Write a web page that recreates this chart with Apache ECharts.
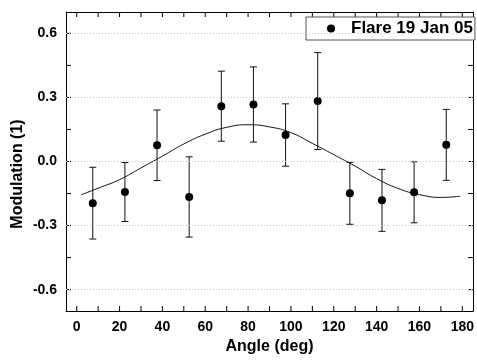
<!DOCTYPE html>
<html>
<head>
<meta charset="utf-8">
<script src="https://cdn.jsdelivr.net/npm/echarts@6/dist/echarts.min.js"></script>
<style>
    html, body { margin: 0; padding: 0; background: #fff; }
    .container { width: 477px; height: 360px; }
</style>
</head>
<body>
<div class="container"></div>
<script>
// measured points (angle, modulation, error)
const angles = [7.5, 22.5, 37.5, 52.5, 67.5, 82.5, 97.5, 112.5, 127.5, 142.5, 157.5, 172.5];
const modulation = [-0.195, -0.143, 0.076, -0.166, 0.259, 0.267, 0.124, 0.283, -0.149, -0.182, -0.144, 0.078];
const errors = [0.168, 0.138, 0.165, 0.188, 0.164, 0.176, 0.146, 0.227, 0.145, 0.145, 0.143, 0.166];

// fitted curve
const fitX = [2, 10, 20, 30, 40, 50, 60, 70, 80, 90, 100, 110, 120, 130, 140, 150, 160, 170, 179];
const fitY = [-0.156, -0.125, -0.085, -0.030, 0.025, 0.082, 0.128, 0.160, 0.172, 0.162, 0.135, 0.085, 0.032, -0.022, -0.080, -0.126, -0.155, -0.168, -0.163];

const xTicks = [0, 20, 40, 60, 80, 100, 120, 140, 160, 180];
const xMinorTicks = [0, 10, 20, 30, 40, 50, 60, 70, 80, 90, 100, 110, 120, 130, 140, 150, 160, 170, 180];
const yTicks = [-0.6, -0.3, 0, 0.3, 0.6];
const yMinorTicks = [-0.6, -0.45, -0.3, -0.15, 0, 0.15, 0.3, 0.45, 0.6];

const seriesName = 'Flare 19 Jan 05';

(function () {
    let myChart = echarts.init(document.querySelector('.container'));

    const font = 'Liberation Sans, Arial, sans-serif';
    const xMin = -5, xMax = 185, yMin = -0.7, yMax = 0.7;

    function xAxisDef(pos, labels) {
        return {
            type: 'value',
            position: pos,
            min: xMin,
            max: xMax,
            axisLine: { show: true, onZero: false, lineStyle: { color: '#000', width: 1 } },
            axisTick: { show: false },
            axisLabel: {
                show: labels,
                customValues: xTicks,
                color: '#000',
                fontFamily: font,
                fontWeight: 'bold',
                fontSize: 14,
                margin: 9
            },
            splitLine: { show: false }
        };
    }

    function yAxisDef(pos, labels) {
        return {
            type: 'value',
            position: pos,
            min: yMin,
            max: yMax,
            axisLine: { show: true, onZero: false, lineStyle: { color: '#000', width: 1 } },
            axisTick: { show: false },
            axisLabel: {
                show: labels,
                customValues: yTicks,
                formatter: function (v) { return v.toFixed(1); },
                color: '#000',
                fontFamily: font,
                fontWeight: 'bold',
                fontSize: 14,
                margin: 9
            },
            splitLine: { show: false }
        };
    }

    const xBottom = xAxisDef('bottom', true);
    xBottom.name = 'Angle (deg)';
    xBottom.nameLocation = 'middle';
    xBottom.nameGap = 28;
    xBottom.nameTextStyle = { color: '#000', fontFamily: font, fontWeight: 'bold', fontSize: 16 };

    // inward ticks on all four sides of the frame
    function tickSeries(values, isX) {
        return {
            type: 'custom',
            z: 3,
            data: values.map(function (v) { return isX ? [v, 0, 0] : [0, v, 0]; }),
            renderItem: function (params, api) {
                const len = 5;
                const st = { stroke: '#000', lineWidth: 1 };
                if (isX) {
                    const v = api.value(0);
                    const b = api.coord([v, yMin]);
                    const t = api.coord([v, yMax]);
                    return {
                        type: 'group',
                        children: [
                            { type: 'line', shape: { x1: b[0], y1: b[1], x2: b[0], y2: b[1] - len }, style: st },
                            { type: 'line', shape: { x1: t[0], y1: t[1], x2: t[0], y2: t[1] + len }, style: st }
                        ]
                    };
                }
                const v = api.value(1);
                const l = api.coord([xMin, v]);
                const r = api.coord([xMax, v]);
                return {
                    type: 'group',
                    children: [
                        { type: 'line', shape: { x1: l[0], y1: l[1], x2: l[0] + len, y2: l[1] }, style: st },
                        { type: 'line', shape: { x1: r[0], y1: r[1], x2: r[0] - len, y2: r[1] }, style: st }
                    ]
                };
            }
        };
    }

    const option = {
        animation: false,
        grid: {
            left: 66,
            right: 1,
            top: 12,
            bottom: 46
        },
        legend: {
            data: [{ name: seriesName, icon: 'circle', itemStyle: { color: '#000', opacity: 1 } }],
            left: 306,
            top: 17,
            orient: 'vertical',
            itemWidth: 8,
            itemHeight: 8,
            padding: [3, 2, 3, 21],
            borderColor: '#555',
            borderWidth: 1,
            backgroundColor: '#fff',
            textStyle: {
                color: '#000',
                fontFamily: font,
                fontWeight: 'bold',
                fontSize: 17,
                lineHeight: 17,
                padding: [0, 0, 0, 11]
            }
        },
        graphic: [{
            type: 'text',
            x: 18,
            y: 174,
            rotation: Math.PI / 2,
            style: {
                text: 'Modulation (1)',
                fill: '#000',
                font: 'bold 16px ' + font,
                textAlign: 'center',
                textVerticalAlign: 'middle'
            }
        }],
        xAxis: [xBottom, xAxisDef('top', false)],
        yAxis: [yAxisDef('left', true), yAxisDef('right', false)],
        series: [
            {
                // dotted horizontal grid lines
                type: 'line',
                data: [],
                silent: true,
                z: 1,
                markLine: {
                    silent: true,
                    symbol: ['none', 'none'],
                    label: { show: false },
                    lineStyle: { type: [1, 2], color: '#c8c8c8', width: 1 },
                    data: yTicks.map(function (v) { return { yAxis: v }; })
                }
            },
            tickSeries(xMinorTicks, true),
            tickSeries(yMinorTicks, false),
            {
                type: 'line',
                data: fitX.map(function (x, i) { return [x, fitY[i]]; }),
                smooth: true,
                showSymbol: false,
                silent: true,
                z: 2,
                lineStyle: { color: '#111', width: 1 }
            },
            {
                type: 'custom',
                z: 3,
                data: angles.map(function (x, i) {
                    return [x, modulation[i] - errors[i], modulation[i] + errors[i]];
                }),
                renderItem: function (params, api) {
                    const x = api.value(0);
                    const lo = api.coord([x, api.value(1)]);
                    const hi = api.coord([x, api.value(2)]);
                    const w = 3.5;
                    const style = { stroke: '#111', lineWidth: 1 };
                    return {
                        type: 'group',
                        children: [
                            { type: 'line', shape: { x1: lo[0], y1: lo[1], x2: hi[0], y2: hi[1] }, style: style },
                            { type: 'line', shape: { x1: hi[0] - w, y1: hi[1], x2: hi[0] + w, y2: hi[1] }, style: style },
                            { type: 'line', shape: { x1: lo[0] - w, y1: lo[1], x2: lo[0] + w, y2: lo[1] }, style: style }
                        ]
                    };
                }
            },
            {
                name: seriesName,
                type: 'scatter',
                z: 4,
                symbol: 'circle',
                symbolSize: 8,
                itemStyle: { color: '#000', opacity: 1 },
                data: angles.map(function (x, i) { return [x, modulation[i]]; })
            }
        ]
    };

    myChart.setOption(option);
})();
</script>
</body>
</html>
